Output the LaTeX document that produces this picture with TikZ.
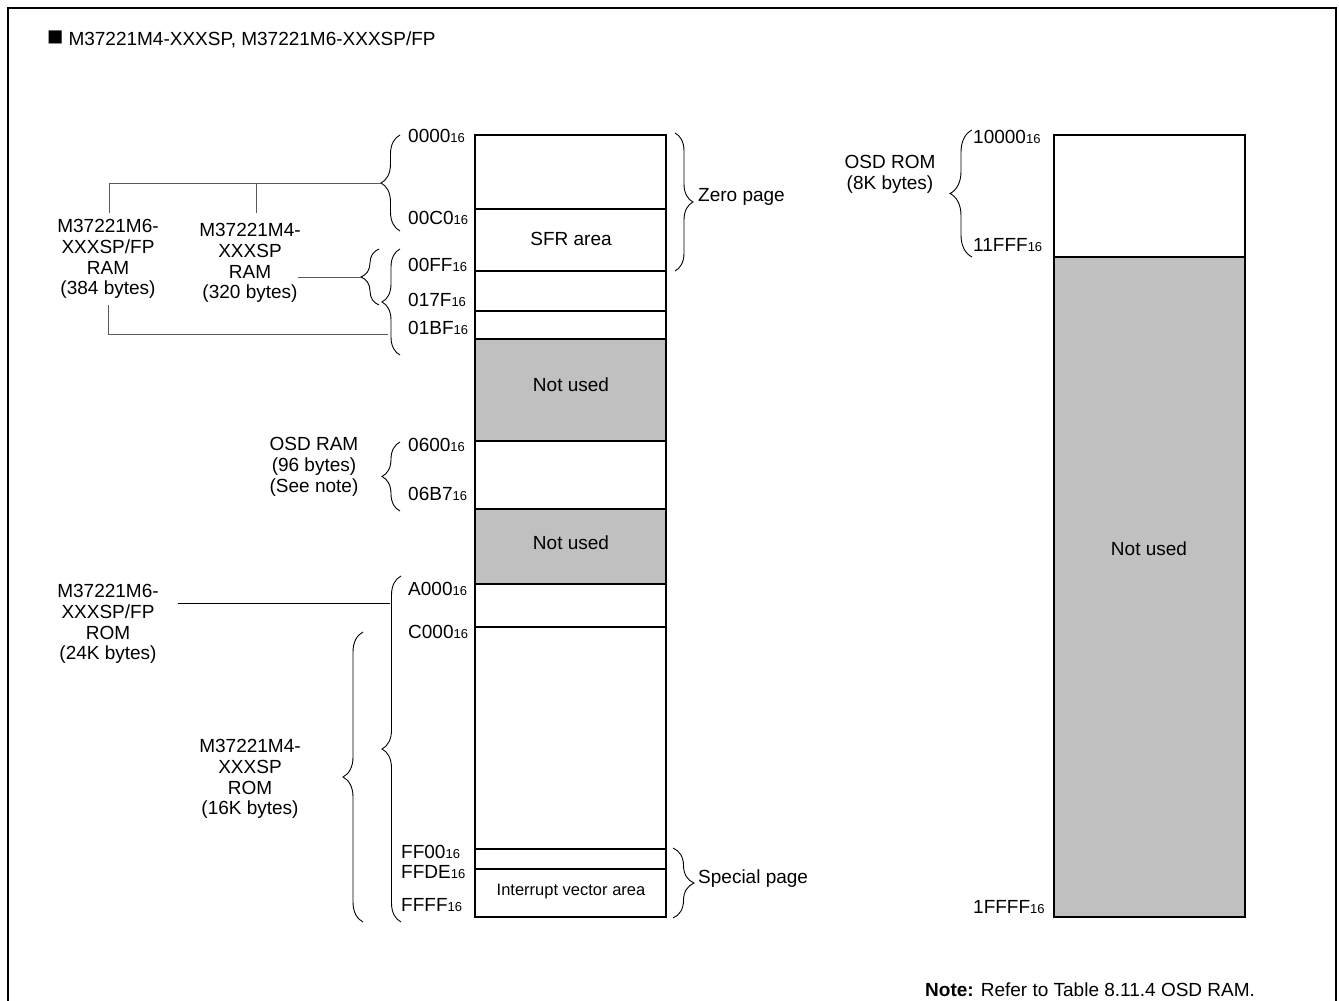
\documentclass[tikz,border=0pt]{standalone}
\usepackage{fontspec}
\setmainfont{Liberation Sans}
\usetikzlibrary{decorations.pathreplacing}
\newcommand\hx[1]{#1{\fontsize{13}{13}\selectfont 16}}
\definecolor{unused}{RGB}{192,192,192}
\definecolor{connc}{RGB}{90,90,90}
\begin{document}
\begin{tikzpicture}[x=1pt,y=-1pt,
  txt/.style={font=\fontsize{19}{20.7}\selectfont, inner sep=0pt, align=center},
  addr/.style={font=\fontsize{19}{20.7}\selectfont, inner sep=0pt, anchor=west},
  col/.style={line width=1.5pt},
  br/.style={decorate, decoration={brace, amplitude=#1}, line width=0.9pt},
  conn/.style={line width=1pt, draw=connc}]
\useasboundingbox (0,0) rectangle (1339,1001);
% frame
\draw[line width=2.5pt] (8,1020) -- (8,8) -- (1336,8) -- (1336,1020);
\node[txt, anchor=base west] (title) at (47,45) {{\fontsize{27}{27}\selectfont ■}\hspace{5pt}M37221M4-XXXSP, M37221M6-XXXSP/FP};

% left memory column
\fill[unused] (475,339) rectangle (666,441);
\fill[unused] (475,509) rectangle (666,584);
\draw[col] (475,135) rectangle (666,917);
\foreach \yy in {209,271,311,339,441,509,584,627,849,869}
  \draw[col] (475,\yy) -- (666,\yy);
\node[txt] (sfr) at (571,239) {SFR area};
\node[txt] (nu1) at (571,385) {Not used};
\node[txt] (nu2) at (571,543) {Not used};
\node[txt, font=\fontsize{16.5}{18}\selectfont] (iva) at (571,892) {Interrupt vector area};

% right memory column
\fill[unused] (1054,257) rectangle (1245,917);
\draw[col] (1054,135) rectangle (1245,917);
\draw[col] (1054,257) -- (1245,257);
\node[txt] (nu3) at (1149,549) {Not used};

% address labels
\node[addr] (a0000) at (408,136) {\hx{0000}};
\node[addr] (a00C0) at (408,218) {\hx{00C0}};
\node[addr] (a00FF) at (408,265) {\hx{00FF}};
\node[addr] (a017F) at (408,300) {\hx{017F}};
\node[addr] (a01BF) at (408,328) {\hx{01BF}};
\node[addr] (a0600) at (408,445) {\hx{0600}};
\node[addr] (a06B7) at (408,494) {\hx{06B7}};
\node[addr] (aA000) at (408,589) {\hx{A000}};
\node[addr] (aC000) at (408,632) {\hx{C000}};
\node[addr] (aFF00) at (401,852) {\hx{FF00}};
\node[addr] (aFFDE) at (401,872) {\hx{FFDE}};
\node[addr] (aFFFF) at (401,905) {\hx{FFFF}};
\node[addr] (a10000) at (973,137) {\hx{10000}};
\node[addr] (a11FFF) at (973,245) {\hx{11FFF}};
\node[addr] (a1FFFF) at (973,907) {\hx{1FFFF}};

% right-opening braces
\draw[br=18pt] (675,133) -- node[coordinate, xshift=18pt] (zp) {} (675,271);
\node[txt, anchor=west] (zero) at (698,197) {Zero page};
\draw[br=21pt] (673,848) -- node[coordinate, xshift=21pt] (sp) {} (673,918);
\node[txt, anchor=west] (spec) at (698,879) {Special page};

% left-opening braces
\draw[br=19pt] (400,231) -- node[coordinate, xshift=-19pt] (bram) {} (400,135);
\draw[br=18pt] (379,305) -- node[coordinate, xshift=-18pt] (bm4) {} (379,249);
\draw[br=18pt] (400,355) -- node[coordinate, xshift=-18pt] (bm6) {} (400,249);
\draw[br=18pt] (400,511) -- node[coordinate, xshift=-18pt] (bosd) {} (400,442);
\draw[br=19pt] (401,922) -- node[coordinate, xshift=-19pt] (brom6) {} (401,576);
\draw[br=20pt] (363,922) -- node[coordinate, xshift=-20pt] (brom4) {} (363,632);
\draw[br=22pt] (972,257) -- node[coordinate, xshift=-22pt] (bosdrom) {} (972,130);

% labels
\node[txt] (m6ram) at (108,259) {M37221M6-\\XXXSP/FP\\RAM\\(384 bytes)};
\node[txt] (m4ram) at (250,263) {M37221M4-\\XXXSP\\RAM\\(320 bytes)};
\node[txt] (osdram) at (314,467) {OSD RAM\\(96 bytes)\\(See note)};
\node[txt] (m6rom) at (108,624) {M37221M6-\\XXXSP/FP\\ROM\\(24K bytes)};
\node[txt] (m4rom) at (250,779) {M37221M4-\\XXXSP\\ROM\\(16K bytes)};
\node[txt] (osdrom) at (890,174) {OSD ROM\\(8K bytes)};
\node[txt, anchor=west] (note) at (925,990) {\textbf{Note:} Refer to Table 8.11.4 OSD RAM.};

% connectors
\coordinate (tL) at (109,183);
\coordinate (tM) at (256,183);
\coordinate (tLd) at (109,213);
\coordinate (tMd) at (256,213);
\draw[conn] (bram) -- (tL) -- (tLd);
\draw[conn] (tM) -- (tMd);
\coordinate (m4end) at (298,277);
\draw[conn] (m4end) -- (bm4);
\coordinate (m6a) at (108,305);
\coordinate (m6b) at (108,334);
\coordinate (m6arm) at (388,334);
\draw[conn] (m6a) -- (m6b) -- (m6arm);
\coordinate (r6a) at (178,603);
\coordinate (r6arm) at (390,603);
\draw[line width=1pt] (r6a) -- (r6arm);
\end{tikzpicture}
\end{document}
